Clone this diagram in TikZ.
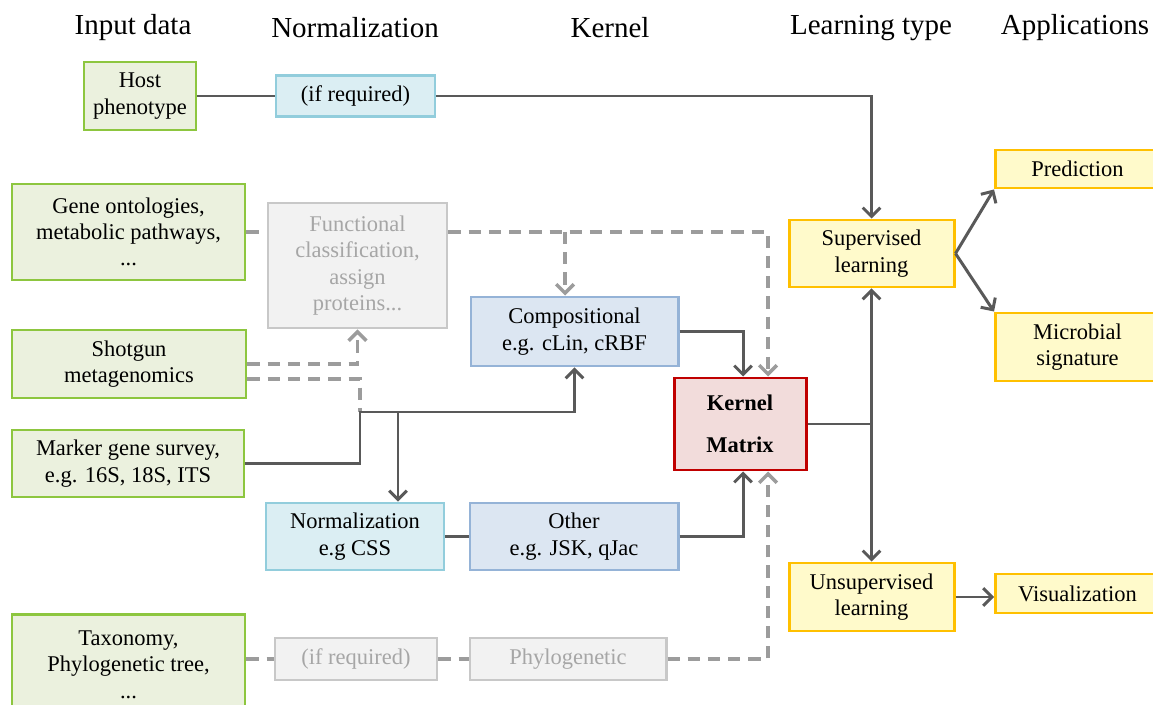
\documentclass[tikz,border=0pt]{standalone}
\usepackage{fontspec}
\setmainfont{Liberation Serif}
\newfontfamily\tms{Liberation Serif}
\usetikzlibrary{arrows.meta,calc}
\definecolor{lineC}{HTML}{595959}
\definecolor{dashC}{HTML}{9C9C9C}
\definecolor{grnB}{HTML}{8DC63F}
\definecolor{grnF}{HTML}{EBF1DE}
\definecolor{ltbB}{HTML}{92CDDC}
\definecolor{ltbF}{HTML}{DBEEF3}
\definecolor{bluB}{HTML}{95B3D7}
\definecolor{bluF}{HTML}{DCE6F2}
\definecolor{yelB}{HTML}{FFC000}
\definecolor{yelF}{HTML}{FFFACB}
\definecolor{redB}{HTML}{C00000}
\definecolor{redF}{HTML}{F2DCDB}
\definecolor{gryB}{HTML}{C8C8C8}
\definecolor{gryF}{HTML}{F2F2F2}
\definecolor{gryT}{HTML}{A6A6A6}
\tikzset{
  sz/.style 2 args={minimum width=#1*0.02cm, minimum height=#2*0.02cm},
  box/.style={draw, line width=1.7pt, inner sep=0pt, align=center,
    font=\tms\fontsize{12.8}{15}\selectfont},
  inbox/.style={box, draw=grnB, fill=grnF},
  nbox/.style={box, draw=ltbB, fill=ltbF},
  kbox/.style={box, draw=bluB, fill=bluF},
  ybox/.style={box, draw=yelB, fill=yelF},
  gbox/.style={box, draw=gryB, fill=gryF, text=gryT},
  rbox/.style={box, draw=redB, fill=redF},
  hdr/.style={font=\tms\fontsize{16.5}{18}\selectfont, inner sep=0pt},
  conn/.style={draw=lineC, line width=1.7pt},
  dconn/.style={draw=dashC, line width=2pt, dash pattern=on 7pt off 4.5pt},
  arr/.style={-{Straight Barb[length=5pt,width=10pt]}},
  barr/.style={{Straight Barb[length=5pt,width=10pt]}-{Straight Barb[length=5pt,width=10pt]}}
}
\begin{document}
\begin{tikzpicture}[x=0.02cm,y=-0.02cm]
\fill[white] (0,0) rectangle (1153,705);
\useasboundingbox (0,0) rectangle (1153,705);

% headers
\node[hdr] (h1) at (133,28) {Input data};
\node[hdr] (h2) at (355,28) {Normalization};
\node[hdr] (h3) at (610,28) {Kernel};
\node[hdr] (h4) at (871,28) {Learning type};
\node[hdr] (h5) at (1075,28) {Applications};

% input data
\node[inbox, sz={112}{68}] (host) at (140,96) {Host\\phenotype};
\node[inbox, sz={233}{96}] (gene) at (128.5,232) {Gene ontologies,\\metabolic pathways,\\...};
\node[inbox, sz={234}{68}] (shot) at (129,364) {Shotgun\\metagenomics};
\node[inbox, sz={232}{67}] (marker) at (128,463.5) {Marker gene survey,\\e.g. 16S, 18S, ITS};
\node[inbox, sz={233}{100}, anchor=north] (taxo) at (128.5,613) {Taxonomy,\\Phylogenetic tree,\\...};

% normalization
\node[nbox, sz={159}{41}] (ifreq1) at (355.5,96) {(if required)};
\node[gbox, sz={179}{125}] (func) at (357.5,265.5) {Functional\\classification,\\assign\\proteins...};
\node[nbox, sz={178}{67}] (norm) at (355,536.5) {Normalization\\e.g CSS};
\node[gbox, sz={162}{42}] (ifreq2) at (356,659) {(if required)};

% kernel
\node[kbox, sz={207}{69}] (comp) at (574.5,331.5) {Compositional\\e.g. cLin, cRBF};
\node[kbox, sz={208}{67}] (other) at (574,536.5) {Other\\e.g. JSK, qJac};
\node[gbox, sz={196}{42}] (phylo) at (568,659) {Phylogenetic};
\node[rbox, sz={132}{92}] (kernel) at (740,424) {\raisebox{-4pt}{\textbf{Kernel}}\\[9pt]\raisebox{-4pt}{\textbf{Matrix}}};

% learning
\node[ybox, sz={165}{67}] (sup) at (871.5,253.5) {Supervised\\learning};
\node[ybox, sz={165}{68}] (unsup) at (871.5,597) {Unsupervised\\learning};

% applications
\node[ybox, sz={164}{38}, anchor=west] (pred) at (994,169) {Prediction};
\node[ybox, sz={164}{68}, anchor=west] (micro) at (994,347) {Microbial\\signature};
\node[ybox, sz={164}{39}, anchor=west] (vis) at (994,593.5) {Visualization};

% coordinates
\coordinate (kd1) at (768,232);
\coordinate (cb) at (565,232);
\coordinate (sd) at (360,379);
\coordinate (j1) at (360,412);
\coordinate (nb) at (398,412);
\coordinate (kl) at (871,424);

% host phenotype path
\draw[conn] (host.east) -- (ifreq1.west);
\draw[conn, arr] (ifreq1.east) -| (sup.north);

% functional dashed paths
\draw[dconn] (gene.east) -- (gene.east -| func.west);
\draw[dconn, arr] (func.east |- gene.east) -- (kd1) -- (kd1 |- kernel.north);
\draw[dconn, arr] (cb) -- (cb |- comp.north);
\draw[dconn, arr] (shot.east) -| (func.south);
\draw[dconn] (shot.east |- sd) -- (sd) -- (j1);

% marker gene
\draw[conn, arr] (marker.east) -| (j1) -| (comp.south);
\draw[conn, arr] (nb) -- (nb |- norm.north);
\draw[conn] (norm.east) -- (other.west);
\draw[conn, arr] (other.east) -| ($(kernel.south)+(3,0)$);
\draw[conn, arr] (comp.east) -| ($(kernel.north)+(3,0)$);

% taxonomy
\draw[dconn] (taxo.east |- ifreq2.west) -- (ifreq2.west);
\draw[dconn] (ifreq2.east) -- (phylo.west);
\draw[dconn, arr] (phylo.east) -| ($(kernel.south)+(28,0)$);

% learning
\draw[conn] (kernel.east) -- (kl);
\draw[conn, barr] (sup.south) -- (unsup.north);
\draw[conn, arr] (sup.east) -- (pred.south west);
\draw[conn, arr] (sup.east) -- (micro.north west);
\draw[conn, arr] (unsup.east) -- (unsup.east -| vis.west);
\end{tikzpicture}
\end{document}
